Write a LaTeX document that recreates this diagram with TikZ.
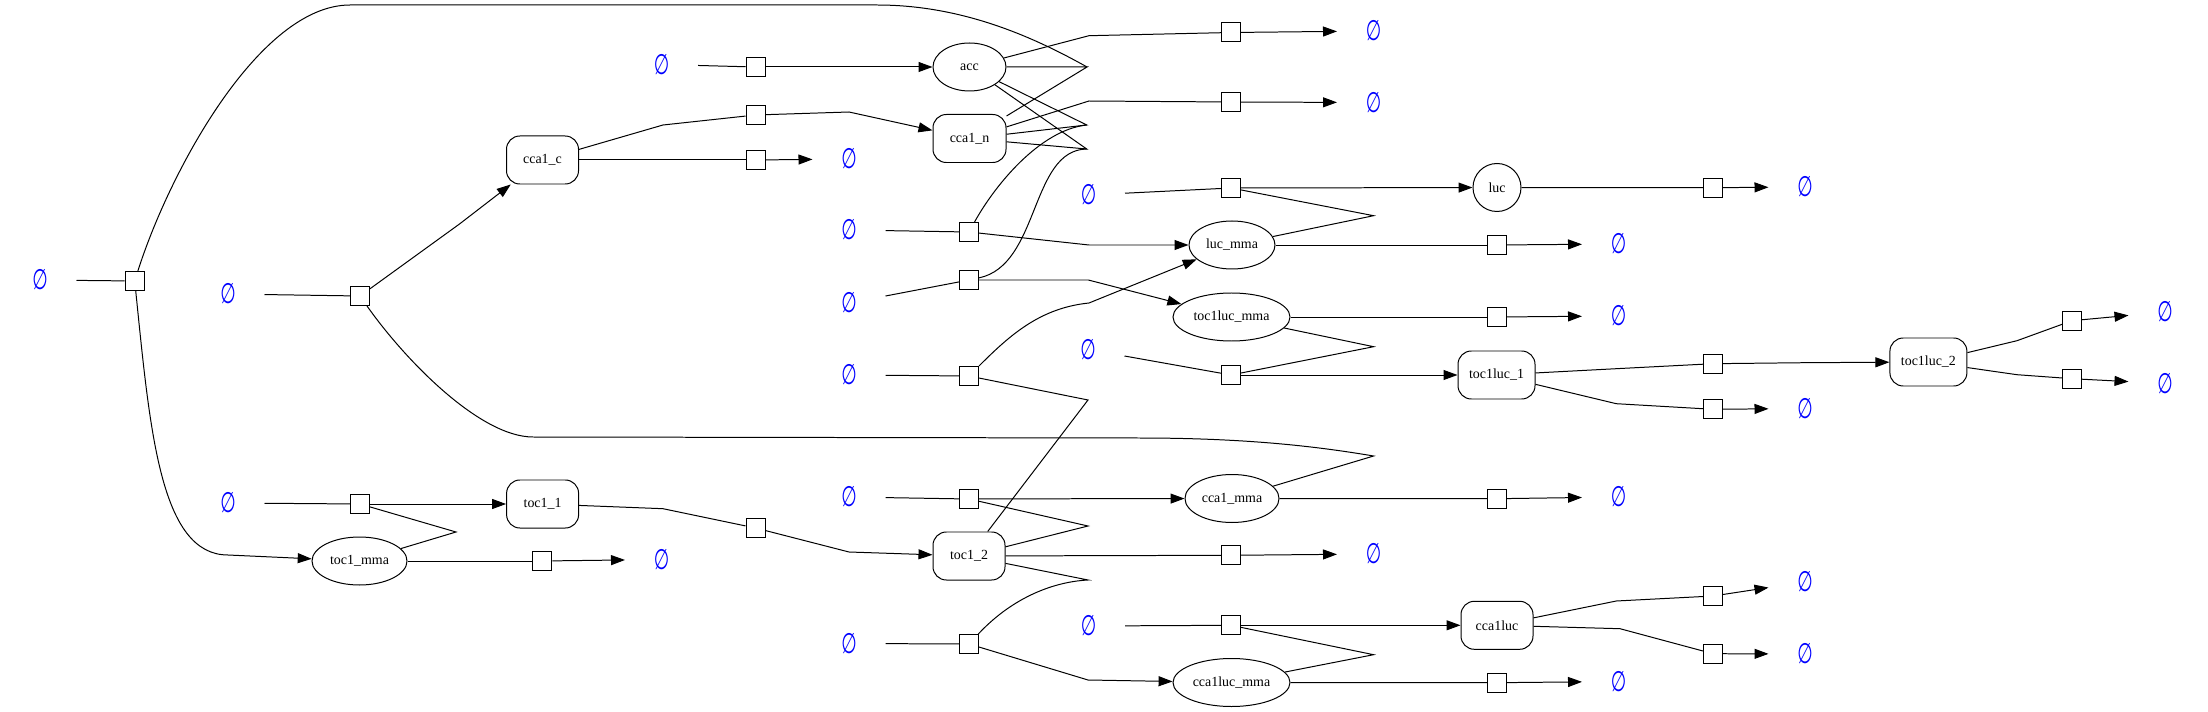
\documentclass[tikz,border=0pt]{standalone}
\usepackage{fontspec}
\setmainfont{Liberation Serif}
\newfontfamily\esfont{DejaVu Sans}
\usetikzlibrary{arrows.meta,shapes.geometric}
\definecolor{esblue}{RGB}{0,0,255}
\newcommand{\emp}{\scalebox{0.72}[1.15]{∅}}
\begin{document}
\begin{tikzpicture}[x=0.03cm,y=-0.03cm,
  every node/.style={font=\fontsize{11.9}{12}\selectfont, inner sep=0pt},
  ell/.style={draw, ellipse, minimum height=1.44cm},
  rbox/.style={draw, rectangle, rounded corners=0.4cm, minimum width=2.16cm, minimum height=1.44cm},
  rxn/.style={draw, rectangle, minimum size=0.57cm},
  es/.style={minimum width=2.16cm, minimum height=1.08cm, text=esblue, font=\esfont\fontsize{21}{21}\selectfont},
  cx/.style={line width=0.85pt},
  prod/.style={line width=0.85pt, -{Triangle[length=0.42cm,width=0.3cm]}},
  line width=0.85pt
]
\useasboundingbox (0,0) rectangle (2208,712);

% species
\node[ell, minimum width=2.19cm] (acc) at (969.5,67) {acc};
\node[rbox, minimum width=2.19cm] (cca1n) at (969.5,138.5) {cca1\_n};
\node[rbox] (cca1c) at (542.5,160) {cca1\_c};
\node[draw, circle, minimum size=1.44cm] (luc) at (1497,187.5) {luc};
\node[ell, minimum width=2.58cm] (lucmma) at (1232,245) {luc\_mma};
\node[ell, minimum width=3.51cm] (toclucmma) at (1231.5,317) {toc1luc\_mma};
\node[rbox, minimum width=2.31cm] (toclucA) at (1496.5,375) {toc1luc\_1};
\node[rbox, minimum width=2.31cm] (toclucB) at (1928.4,362) {toc1luc\_2};
\node[ell, minimum width=2.82cm] (ccamma) at (1232,498.5) {cca1\_mma};
\node[rbox] (tocB) at (969,556) {toc1\_2};
\node[ell, minimum width=3.51cm] (ccalucmma) at (1231.5,682.5) {cca1luc\_mma};
\node[rbox] (ccaluc) at (1497,625.3) {cca1luc};
\node[rbox] (tocA) at (542.6,504) {toc1\_1};
\node[ell, minimum width=2.85cm] (tocmma) at (359.5,561) {toc1\_mma};

% reactions
\node[rxn] (r1) at (134.7,281) {};
\node[rxn] (r2) at (360,296) {};
\node[rxn] (r3) at (755.5,67) {};
\node[rxn] (r4) at (755.5,115) {};
\node[rxn] (r5) at (755.5,160) {};
\node[rxn] (r6) at (969,232) {};
\node[rxn] (r7) at (969,280) {};
\node[rxn] (r8) at (969,376) {};
\node[rxn] (r9) at (969,499) {};
\node[rxn] (r10) at (969,644) {};
\node[rxn] (r11) at (360,504) {};
\node[rxn] (r12) at (755.5,528) {};
\node[rxn] (r13) at (542.3,561) {};
\node[rxn] (r14) at (1231,32.5) {};
\node[rxn] (r15) at (1231,102) {};
\node[rxn] (r16) at (1231,188) {};
\node[rxn] (r17) at (1497,245) {};
\node[rxn] (r18) at (1497,317) {};
\node[rxn] (r19) at (1231,375) {};
\node[rxn] (r20) at (1497,498.7) {};
\node[rxn] (r21) at (1231,555.3) {};
\node[rxn] (r22) at (1231,625.3) {};
\node[rxn] (r23) at (1497,682.7) {};
\node[rxn] (r24) at (1713,187.7) {};
\node[rxn] (r25) at (1713,363.7) {};
\node[rxn] (r26) at (1713,409.3) {};
\node[rxn] (r27) at (1713,596) {};
\node[rxn] (r28) at (1713,653.7) {};
\node[rxn] (r29) at (2072,320.7) {};
\node[rxn] (r30) at (2072,378.7) {};

% empty sets
\node[es] (e1) at (40,280) {\emp};
\node[es] (e2) at (228,294) {\emp};
\node[es] (e3) at (661.5,64.5) {\emp};
\node[es] (e4) at (849,159) {\emp};
\node[es] (e5) at (849,230) {\emp};
\node[es] (e6) at (849,303) {\emp};
\node[es] (e7) at (849,375) {\emp};
\node[es] (e8) at (849,497) {\emp};
\node[es] (e9) at (849,643.5) {\emp};
\node[es] (e10) at (228,503) {\emp};
\node[es] (e11) at (661.5,559.5) {\emp};
\node[es] (e12) at (1373.5,31) {\emp};
\node[es] (e13) at (1373.5,102.5) {\emp};
\node[es] (e14) at (1088.5,195) {\emp};
\node[es] (e15) at (1618.5,244) {\emp};
\node[es] (e16) at (1618.5,316) {\emp};
\node[es] (e17) at (1088,349.5) {\emp};
\node[es] (e18) at (1618.5,497) {\emp};
\node[es] (e19) at (1373.5,554) {\emp};
\node[es] (e20) at (1088.5,626) {\emp};
\node[es] (e21) at (1618.5,681.5) {\emp};
\node[es] (e22) at (1805,187) {\emp};
\node[es] (e23) at (1805,408.5) {\emp};
\node[es] (e24) at (1805,582) {\emp};
\node[es] (e25) at (1805,654) {\emp};
\node[es] (e26) at (2165,312) {\emp};
\node[es] (e27) at (2165,383.5) {\emp};

% junctions
\coordinate (Ja) at (1089,35.7);
\coordinate (Jb) at (1087,67);
\coordinate (Jc) at (1089,101);
\coordinate (Jd) at (1086.7,125);
\coordinate (Je) at (1086.7,149);
\coordinate (J8) at (1088,400);
\coordinate (J9) at (1088,526);
\coordinate (J10) at (1088,580);
\coordinate (J11) at (456,532);
\coordinate (J16) at (1373.6,215.7);
\coordinate (J19) at (1373.6,346.7);
\coordinate (Jr2) at (1373.6,456);
\coordinate (J22) at (1373.6,654.7);

% r1
\draw[cx] (e1) -- (r1);
\draw[prod] (r1) .. controls (150,430) and (160,555) .. (228,555) -- (tocmma);
\draw[cx] (r1) .. controls (170,170) and (260,5) .. (350,5) -- (877,5) .. controls (960,5) and (1030,35) .. (Jb);
\draw[cx] (acc) -- (Jb) -- (cca1n);
% r2
\draw[cx] (e2) -- (r2);
\draw[prod] (r2) -- (459.5,224) -- (cca1c);
\draw[cx] (r2) .. controls (405,360) and (480,437) .. (533,437) -- (1139,438) .. controls (1250,438) and (1320,447) .. (Jr2) -- (ccamma);
% r3
\draw[cx] (e3) -- (r3);
\draw[prod] (r3) -- (acc);
% r4
\draw[cx] (cca1c) -- (663,125) -- (r4);
\draw[prod] (r4) -- (849,112) -- (cca1n);
% r5
\draw[cx] (cca1c) -- (r5);
\draw[prod] (r5) -- (e4);
% r6
\draw[cx] (e5) -- (r6);
\draw[prod] (r6) -- (1089,245) -- (lucmma);
\draw[cx] (acc) -- (Jd) -- (cca1n);
\draw[cx] (Jd) .. controls (1040,130) and (995,185) .. (r6);
% r7
\draw[cx] (e6) -- (r7);
\draw[prod] (r7) -- (1088.3,280) -- (toclucmma);
\draw[cx] (acc) -- (Je) -- (cca1n);
\draw[cx] (Je) .. controls (1030,150) and (1040,265) .. (r7);
% r8
\draw[cx] (e7) -- (r8);
\draw[prod] (r8) .. controls (1010,335) and (1040,308) .. (1089,303) -- (lucmma);
\draw[cx] (tocB) -- (J8) -- (r8);
% r9
\draw[cx] (e8) -- (r9);
\draw[prod] (r9) -- (1090,498.7) -- (ccamma);
\draw[cx] (r9) -- (J9) -- (tocB);
% r10
\draw[cx] (e9) -- (r10);
\draw[prod] (r10) -- (1088,680) -- (ccalucmma);
\draw[cx] (r10) .. controls (1010,600) and (1050,582) .. (J10) -- (tocB);
% r11
\draw[cx] (e10) -- (r11);
\draw[prod] (r11) -- (tocA);
\draw[cx] (r11) -- (J11) -- (tocmma);
% r12
\draw[cx] (tocA) -- (663,508.7) -- (r12);
\draw[prod] (r12) -- (849,552) -- (tocB);
% r13
\draw[cx] (tocmma) -- (r13);
\draw[prod] (r13) -- (e11);
% r14
\draw[cx] (acc) -- (Ja) -- (r14);
\draw[prod] (r14) -- (e12);
% r15
\draw[cx] (cca1n) -- (Jc) -- (r15);
\draw[prod] (r15) -- (e13);
% r16
\draw[cx] (e14) -- (r16);
\draw[prod] (r16) -- (luc);
\draw[cx] (r16) -- (J16) -- (lucmma);
% r17
\draw[cx] (lucmma) -- (r17);
\draw[prod] (r17) -- (e15);
% r18
\draw[cx] (toclucmma) -- (r18);
\draw[prod] (r18) -- (e16);
% r19
\draw[cx] (e17) -- (r19);
\draw[prod] (r19) -- (toclucA);
\draw[cx] (r19) -- (J19) -- (toclucmma);
% r20
\draw[cx] (ccamma) -- (r20);
\draw[prod] (r20) -- (e18);
% r21
\draw[cx] (tocB) -- (r21);
\draw[prod] (r21) -- (e19);
% r22
\draw[cx] (e20) -- (r22);
\draw[prod] (r22) -- (ccaluc);
\draw[cx] (r22) -- (J22) -- (ccalucmma);
% r23
\draw[cx] (ccalucmma) -- (r23);
\draw[prod] (r23) -- (e21);
% r24
\draw[cx] (luc) -- (r24);
\draw[prod] (r24) -- (e22);
% r25
\draw[cx] (toclucA) -- (1616.3,368.7) -- (r25);
\draw[prod] (r25) -- (1805,362.7) -- (toclucB);
% r26
\draw[cx] (toclucA) -- (1616.3,403.7) -- (r26);
\draw[prod] (r26) -- (e23);
% r27
\draw[cx] (ccaluc) -- (1616.3,601) -- (r27);
\draw[prod] (r27) -- (e24);
% r28
\draw[cx] (ccaluc) -- (1620,628.7) -- (r28);
\draw[prod] (r28) -- (e25);
% r29
\draw[cx] (toclucB) -- (2017,340.7) -- (r29);
\draw[prod] (r29) -- (e26);
% r30
\draw[cx] (toclucB) -- (2017,374.7) -- (r30);
\draw[prod] (r30) -- (e27);
\end{tikzpicture}
\end{document}
